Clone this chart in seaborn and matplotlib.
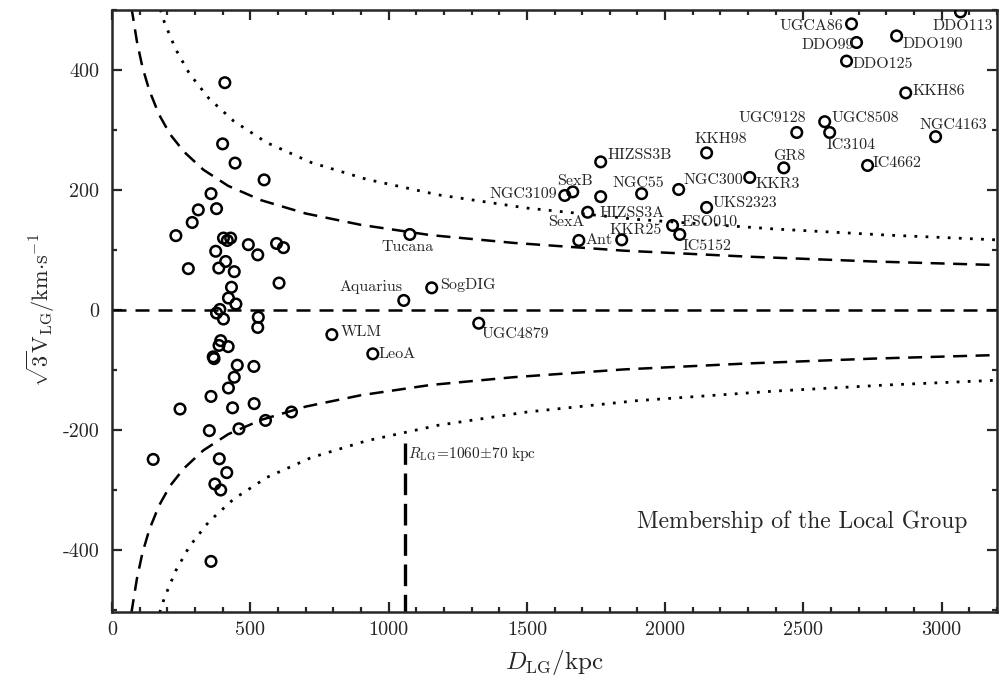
import matplotlib.pyplot as plt
import seaborn as sns
import numpy as np
import pandas as pd
from matplotlib.ticker import MultipleLocator

# ---- data ----
# unnamed galaxies close to the LG centre
cluster_d = [408, 400, 445, 550, 358, 312, 378, 290, 231, 403, 417, 429, 493, 595,
             620, 375, 527, 276, 411, 386, 442, 604, 432, 421, 448, 390, 378, 403,
             529, 527, 393, 387, 420, 366, 369, 453, 513, 442, 421, 358, 246, 436,
             514, 649, 555, 459, 352, 149, 388, 415, 372, 393, 358]
cluster_v = [379, 277, 245, 217, 194, 167, 169, 146, 124, 120, 116, 120, 109, 111,
             104, 98, 92, 69, 81, 70, 64, 45, 38, 20, 10, 1, -5, -15,
             -12, -29, -51, -59, -61, -78, -81, -92, -94, -112, -130, -144, -165, -163,
             -156, -170, -184, -198, -201, -249, -248, -271, -290, -300, -419]

# named galaxies
names = ['UGCA86', 'DDO99', 'DDO125', 'DDO190', 'DDO113', 'KKH86', 'UGC8508', 'IC3104',
         'UGC9128', 'NGC4163', 'GR8', 'IC4662', 'KKR3', 'HIZSS3B', 'KKH98', 'SexB',
         'NGC3109', 'HIZSS3A', 'SexA', 'NGC55', 'NGC300', 'UKS2323', 'ESO010', 'IC5152',
         'KKR25', 'Ant', 'Tucana', 'Aquarius', 'SogDIG', 'WLM', 'LeoA', 'UGC4879']
named_d = [2674, 2692, 2656, 2837, 3068, 2870, 2577, 2595,
           2476, 2978, 2429, 2732, 2306, 1767, 2150, 1666,
           1637, 1767, 1720, 1915, 2049, 2150, 2027, 2053,
           1843, 1688, 1077, 1055, 1156, 795, 943, 1326]
named_v = [477, 446, 415, 457, 497, 362, 314, 296,
           296, 289, 237, 241, 221, 247, 262, 197,
           191, 189, 163, 194, 201, 171, 141, 126,
           117, 116, 126, 16, 37, -41, -73, -22]

# zero-energy envelope (dashed) and 1.5x envelope (dotted)
env_d = [70, 75, 90, 110, 135, 170, 210, 260, 330, 420, 540, 700, 900, 1150,
         1450, 1850, 2300, 2750, 3200]
env_v = [505, 491, 448, 405, 366, 326, 293, 264, 234, 207, 183, 161, 142, 125,
         112, 99, 89, 81, 75]
dot_d = [160, 190, 230, 280, 350, 440, 560, 720, 920, 1180, 1500, 1900, 2400, 2800, 3200]
dot_v = [522, 479, 435, 394, 353, 315, 279, 246, 218, 192, 170, 151, 135, 125, 117]

R_LG = 1060
R_LG_TOP = -222

# label offsets in pixels: (dx, dy, ha)
label_pos = {
    'UGCA86': (-8, -2, 'right'), 'DDO99': (-3, -3, 'right'), 'DDO125': (6, -3, 'left'),
    'DDO190': (6, -8, 'left'), 'DDO113': (2, -14, 'center'), 'KKH86': (7, 2, 'left'),
    'UGC8508': (7, 4, 'left'), 'IC3104': (-3, -13, 'left'), 'UGC9128': (-25, 14, 'center'),
    'NGC4163': (18, 12, 'center'), 'GR8': (5, 12, 'center'), 'IC4662': (5, 2, 'left'),
    'KKR3': (6, -7, 'left'), 'HIZSS3B': (7, 7, 'left'), 'KKH98': (14, 14, 'center'),
    'SexB': (2, 11, 'center'), 'NGC3109': (-8, 1, 'right'), 'HIZSS3A': (-1, -16, 'left'),
    'SexA': (-3, -10, 'right'), 'NGC55': (-3, 11, 'center'), 'NGC300': (5, 9, 'left'),
    'UKS2323': (6, 4, 'left'), 'ESO010': (9, 3, 'left'), 'IC5152': (3, -12, 'left'),
    'KKR25': (14, 10, 'center'), 'Ant': (7, 0, 'left'), 'Tucana': (-2, -13, 'center'),
    'Aquarius': (-1, 13, 'right'), 'SogDIG': (8, 3, 'left'), 'WLM': (9, 2, 'left'),
    'LeoA': (6, 0, 'left'), 'UGC4879': (3, -11, 'left'),
}

sns.set_style('ticks')
plt.rcParams['font.family'] = 'serif'
plt.rcParams['font.serif'] = ['cmr10', 'DejaVu Serif']
plt.rcParams['mathtext.fontset'] = 'cm'
plt.rcParams['axes.unicode_minus'] = False
plt.rcParams['axes.formatter.use_mathtext'] = False

fig, ax = plt.subplots(figsize=(10, 6.79), dpi=100)
fig.subplots_adjust(left=0.112, right=0.997, bottom=0.099, top=0.986)

pts = pd.DataFrame({'D': cluster_d + named_d, 'V': cluster_v + named_v})
sns.scatterplot(data=pts, x='D', y='V', marker='o', s=58, facecolor='none',
                edgecolor='black', linewidth=1.8, ax=ax, zorder=3)

env = pd.DataFrame({'D': env_d, 'V': env_v})
dots = pd.DataFrame({'D': dot_d, 'V': dot_v})
for sign in (1, -1):
    ax.plot(env['D'], sign * env['V'], color='black', lw=1.8, ls=(0, (5.6, 3.4)))
    ax.plot(dots['D'], sign * dots['V'], color='black', lw=2.0, ls=(0, (1, 3)))
ax.axhline(0, color='black', lw=1.8, ls=(0, (5.6, 3.6)))
ax.plot([R_LG, R_LG], [-510, R_LG_TOP], color='black', lw=2.4, ls=(0, (6.5, 2.6)))

for n, d, v in zip(names, named_d, named_v):
    dx, dy, ha = label_pos[n]
    ax.annotate(n, (d, v), xytext=(dx, dy), textcoords='offset pixels',
                ha=ha, va='center', fontsize=11.5)

ax.annotate(r'$R_{\rm LG}\!=\!1060\!\pm\!70\ \rm kpc$', (R_LG, R_LG_TOP),
            xytext=(3, -11), textcoords='offset pixels', ha='left', va='center',
            fontsize=11)
ax.text(0.967, 0.149, 'Membership of the Local Group', transform=ax.transAxes,
        ha='right', va='center', fontsize=17)

ax.set_xlim(0, 3200)
ax.set_ylim(-503, 501)
ax.xaxis.set_major_locator(MultipleLocator(500))
ax.xaxis.set_minor_locator(MultipleLocator(100))
ax.yaxis.set_major_locator(MultipleLocator(200))
ax.yaxis.set_minor_locator(MultipleLocator(100))
ax.tick_params(which='both', direction='in', top=True, right=True, width=1.6,
               labelsize=14.5)
ax.tick_params(which='major', length=7)
ax.tick_params(which='minor', length=3.5)
ax.tick_params(axis='y', pad=9)
ax.tick_params(axis='x', pad=7)
for s in ax.spines.values():
    s.set_linewidth(1.8)

ax.set_xlabel(r'$D_{\rm LG}/\rm kpc$', fontsize=18, labelpad=6)
ax.set_ylabel(r'$\sqrt{3}\mathrm{V}_{\rm LG}/\mathrm{km{\cdot}s^{-1}}$', fontsize=16,
              labelpad=4)

plt.savefig('out.png', dpi=100)
plt.close()
